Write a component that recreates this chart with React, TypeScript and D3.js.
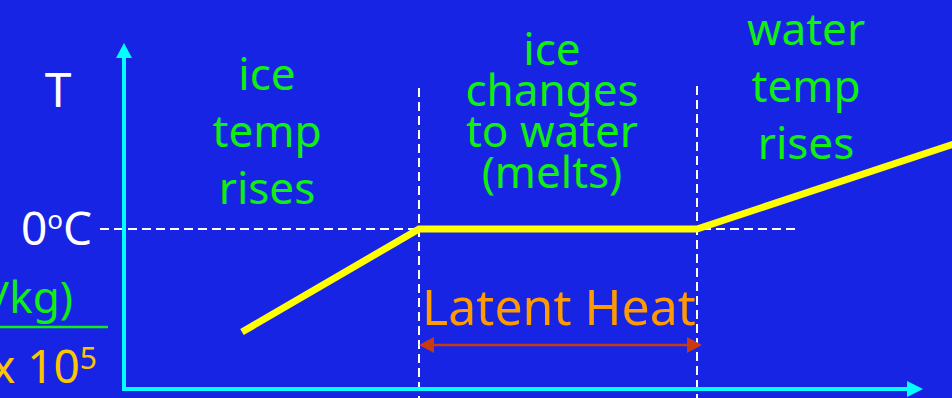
import React from "react";
import * as d3 from "d3";

// ---- data ----
const heatPoints = [118, 295, 573, 830];        // heat added (arbitrary units)
const tempPoints = [-20.6, 0, 0, 17];            // temperature (°C)
const leftLabel = ["ice", "temp", "rises"];
const midLabel = ["ice", "changes", "to water", "(melts)"];
const rightLabel = ["water", "temp", "rises"];
const latentLabel = "Latent Heat";
const axisLabelY = "T";
const meltLabel = ["0", "o", "C"];
const unitLabel = "(J/kg)";
const scaleLabel = ["x 10", "5"];

const W = 952;
const H = 398;
const BG = "#1824E4";
const FONT = "'Comic Sans MS', 'Noto Sans', sans-serif";

export default function App() {
  const x = d3.scaleLinear().domain([0, 800]).range([124, 924]);
  const y = d3.scaleLinear().domain([-32, 37.2]).range([389, 43]);

  const pts: [number, number][] = heatPoints.map((h, i) => [x(h), y(tempPoints[i])]);
  const line = d3.line<[number, number]>()(pts) || "";

  const x0 = x(0), y0 = y(-32);
  const xMeltA = x(heatPoints[1]);
  const xMeltB = x(heatPoints[2]);
  const yMelt = y(0);
  const arrowY = 345;

  return (
    <div style={{ position: "fixed", left: 0, top: 0, width: W, height: H }}>
      <svg width={W} height={H} style={{ display: "block" }}>
        <rect width={W} height={H} fill={BG} />

        {/* dashed guides */}
        <g stroke="#ffffff" strokeWidth={2} strokeDasharray="9,5" fill="none">
          <line x1={100} x2={795} y1={yMelt} y2={yMelt} />
          <line x1={xMeltA} x2={xMeltA} y1={88} y2={H} />
          <line x1={xMeltB} x2={xMeltB} y1={86} y2={H} />
        </g>

        {/* axes */}
        <g stroke="#00ffff" strokeWidth={4}>
          <line x1={x0} x2={x0} y1={y0 + 2} y2={56} />
          <line x1={x0 - 2} x2={908} y1={y0} y2={y0} />
        </g>
        <path d={`M${x0},43 L${x0 - 8},58 L${x0 + 8},58 Z`} fill="#00ffff" />
        <path d={`M923,${y0} L907,${y0 - 8} L907,${y0 + 8} Z`} fill="#00ffff" />

        {/* heating curve */}
        <path d={line} fill="none" stroke="#ffff00" strokeWidth={7} strokeLinejoin="miter" />

        {/* latent heat arrow */}
        <line x1={xMeltA + 12} x2={xMeltB - 8} y1={arrowY} y2={arrowY} stroke="#c83a10" strokeWidth={2.5} />
        <path d={`M${xMeltA},${arrowY} L${xMeltA + 15},${arrowY - 8} L${xMeltA + 15},${arrowY + 8} Z`} fill="#c83a10" />
        <path d={`M${xMeltB + 5},${arrowY} L${xMeltB - 10},${arrowY - 8} L${xMeltB - 10},${arrowY + 8} Z`} fill="#c83a10" />

        <g fontFamily={FONT} fill="#11ee11" fontSize={44} textAnchor="middle">
          {leftLabel.map((s, i) => (
            <text key={"l" + i} x={267} y={90 + i * 57}>{s}</text>
          ))}
          {midLabel.map((s, i) => (
            <text key={"m" + i} x={552} y={65 + i * 41}>{s}</text>
          ))}
          {rightLabel.map((s, i) => (
            <text key={"r" + i} x={806} y={45 + i * 57}>{s}</text>
          ))}
        </g>

        <text x={559} y={325} fontFamily={FONT} fontSize={50} fill="#ff9a00" textAnchor="middle">{latentLabel}</text>

        <text x={58} y={107} fontFamily={FONT} fontSize={48} fill="#ffffff" textAnchor="middle">{axisLabelY}</text>

        <text x={92} y={245} fontFamily={FONT} fontSize={46} fill="#ffffff" textAnchor="end">
          {meltLabel[0]}
          <tspan fontSize={26} dy={-16}>{meltLabel[1]}</tspan>
          <tspan dy={16}>{meltLabel[2]}</tspan>
        </text>

        <text x={73} y={313} fontFamily={FONT} fontSize={44} fill="#11ee11" textAnchor="end">{unitLabel}</text>
        <line x1={0} x2={108} y1={327} y2={327} stroke="#11ee11" strokeWidth={2.5} />

        <text x={97} y={383} fontFamily={FONT} fontSize={46} fill="#ffc400" textAnchor="end">
          {scaleLabel[0]}
          <tspan fontSize={30} dy={-14}>{scaleLabel[1]}</tspan>
        </text>
      </svg>
    </div>
  );
}
